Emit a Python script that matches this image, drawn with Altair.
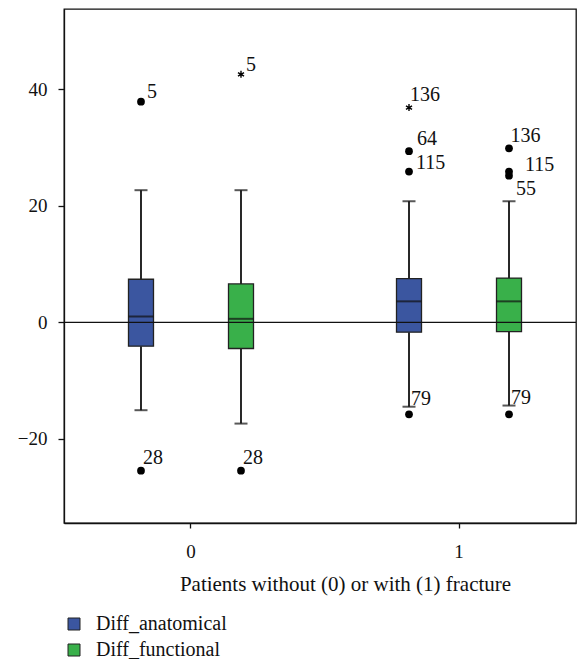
import altair as alt
import pandas as pd

FONT = "Liberation Serif"

# ---- box statistics ----
groups = ["0", "0", "1", "1"]
series = ["Diff_anatomical", "Diff_functional", "Diff_anatomical", "Diff_functional"]
whisker_low = [-15.1, -17.4, -14.5, -14.3]
q1 = [-4.1, -4.5, -1.7, -1.6]
median = [1.0, 0.6, 3.6, 3.6]
q3 = [7.4, 6.6, 7.5, 7.6]
whisker_high = [22.7, 22.7, 20.8, 20.8]

# ---- outliers ----
out_group = ["0", "0", "0", "0", "1", "1", "1", "1", "1", "1", "1", "1"]
out_series = ["Diff_anatomical", "Diff_anatomical", "Diff_functional", "Diff_functional",
              "Diff_anatomical", "Diff_anatomical", "Diff_anatomical", "Diff_anatomical",
              "Diff_functional", "Diff_functional", "Diff_functional", "Diff_functional"]
out_value = [37.9, -25.5, 42.6, -25.5, 36.9, 29.4, 25.9, -15.8, 29.9, 25.9, 25.2, -15.8]
out_label = ["5", "28", "5", "28", "136", "64", "115", "79", "136", "115", "55", "79"]
out_kind = ["outlier", "outlier", "extreme", "outlier", "extreme", "outlier", "outlier", "outlier",
            "outlier", "outlier", "outlier", "outlier"]

series_names = ["Diff_anatomical", "Diff_functional"]
series_colors = ["#3B56A0", "#39B04A"]
group_names = ["0", "1"]

# label offsets (style): (group, series, label) -> (dx, dy)
label_offsets = {
    ("0", "Diff_anatomical", "5"): (6, -4),
    ("0", "Diff_anatomical", "28"): (2, -7),
    ("0", "Diff_functional", "5"): (5, -3),
    ("0", "Diff_functional", "28"): (2, -7),
    ("1", "Diff_anatomical", "136"): (1, -7),
    ("1", "Diff_anatomical", "64"): (8, -6),
    ("1", "Diff_anatomical", "115"): (7, -3),
    ("1", "Diff_anatomical", "79"): (2, -9),
    ("1", "Diff_functional", "136"): (1.5, -6),
    ("1", "Diff_functional", "115"): (16, -1),
    ("1", "Diff_functional", "55"): (7, 19),
    ("1", "Diff_functional", "79"): (2, -10),
}

boxes = pd.DataFrame({"group": groups, "series": series, "lo": whisker_low, "q1": q1,
                      "med": median, "q3": q3, "hi": whisker_high})
outs = pd.DataFrame({"group": out_group, "series": out_series, "value": out_value,
                     "label": out_label, "kind": out_kind})

x_enc = alt.X("group:N",
              scale=alt.Scale(domain=group_names, paddingInner=0.2, paddingOuter=0.0552,
                              align=0.669),
              axis=alt.Axis(title="Patients without (0) or with (1) fracture", labelAngle=0,
                            tickSize=5, labelPadding=29, labelBaseline="alphabetic",
                            titleX=281, titleY=67, titleBaseline="alphabetic",
                            titleAnchor="start", titleAlign="center"))
xo_enc = alt.XOffset("series:N",
                     scale=alt.Scale(domain=series_names, paddingInner=0.75, paddingOuter=0.447))
y_scale = alt.Scale(domain=[-34.48, 53.83], nice=False, zero=False)
y_axis = alt.Axis(title=None, values=[-20, 0, 20, 40], tickSize=6, labelPadding=11, grid=False)


def Y(field):
    return alt.Y(field, scale=y_scale, axis=y_axis)


base = alt.Chart(boxes)

whisk_low = base.mark_rule(color="#111", strokeWidth=1.8).encode(
    x=x_enc, xOffset=xo_enc, y=Y("lo:Q"), y2="q1:Q")
whisk_high = base.mark_rule(color="#111", strokeWidth=1.8).encode(
    x=x_enc, xOffset=xo_enc, y=Y("q3:Q"), y2="hi:Q")
cap_low = base.mark_tick(color="#111", size=13, thickness=2).encode(
    x=x_enc, xOffset=xo_enc, y=Y("lo:Q"))
cap_high = base.mark_tick(color="#111", size=13, thickness=2).encode(
    x=x_enc, xOffset=xo_enc, y=Y("hi:Q"))
box = base.mark_bar(stroke="#222", strokeWidth=1.3).encode(
    x=x_enc, xOffset=xo_enc, y=Y("q1:Q"), y2="q3:Q",
    color=alt.Color("series:N",
                    scale=alt.Scale(domain=series_names, range=series_colors),
                    legend=alt.Legend(title=None, orient="none", legendX=0, legendY=605,
                                      direction="vertical", symbolType="square",
                                      symbolSize=144, symbolStrokeColor="#222",
                                      symbolStrokeWidth=1, labelFont=FONT, labelFontSize=20,
                                      labelColor="#111", labelOffset=12, rowPadding=6,
                                      padding=0)))
med = base.mark_tick(color="#111", size=25, thickness=2).encode(
    x=x_enc, xOffset=xo_enc, y=Y("med:Q"))

zero = alt.Chart(pd.DataFrame({"z": [0]})).mark_rule(color="#111", strokeWidth=1.3).encode(
    y=Y("z:Q"))

dots = alt.Chart(outs).transform_filter(alt.datum.kind == "outlier").mark_point(
    shape="circle", filled=True, color="#000", size=60, opacity=1).encode(
    x=x_enc, xOffset=xo_enc, y=Y("value:Q"))
stars = alt.Chart(outs).transform_filter(alt.datum.kind == "extreme").mark_point(
    shape="M0,-1L0,1M-0.87,-0.5L0.87,0.5M-0.87,0.5L0.87,-0.5", filled=False,
    color="#000", strokeWidth=1.4, size=49, opacity=1).encode(
    x=x_enc, xOffset=xo_enc, y=Y("value:Q"))

texts = []
for i in range(len(outs)):
    row = outs.iloc[[i]]
    dx, dy = label_offsets[(row["group"].iloc[0], row["series"].iloc[0], row["label"].iloc[0])]
    texts.append(alt.Chart(row).mark_text(
        align="left", baseline="alphabetic", dx=dx, dy=dy, font=FONT, fontSize=20,
        color="#111").encode(x=x_enc, xOffset=xo_enc, y=Y("value:Q"), text="label:N"))

chart = alt.layer(whisk_low, whisk_high, cap_low, cap_high, box, med, zero, dots, stars,
                  *texts).properties(
    width=512, height=514,
    padding={"left": 56, "top": 1, "right": 1, "bottom": 136},
    autosize=alt.AutoSizeParams(type="none"),
).configure_view(stroke="#111", strokeWidth=1.3).configure_axis(
    domainColor="#111", domainWidth=1.3, tickColor="#111", tickWidth=1.3,
    labelFont=FONT, labelFontSize=19, labelColor="#111",
    titleFont=FONT, titleFontSize=21, titleFontWeight="normal", titleColor="#111",
)

chart.save("out.html", embed_options={"renderer": "svg", "actions": False})
